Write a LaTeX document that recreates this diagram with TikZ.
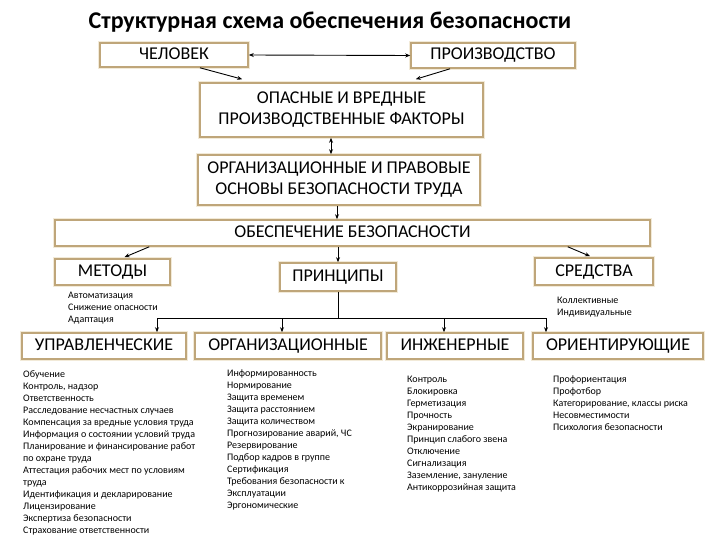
\documentclass[tikz,border=0pt]{standalone}
\usepackage{fontspec}
\setmainfont{Carlito}
\usetikzlibrary{arrows.meta,calc}
\definecolor{boxline}{RGB}{191,166,122}
\definecolor{boxglow}{RGB}{242,234,216}
\tikzset{
  box/.style={draw=boxline, line width=1.6pt, fill=white, inner sep=0pt,
    preaction={draw=boxglow, line width=4.5pt},
    font=\fontsize{18}{21}\selectfont, align=center},
  one/.style={text height=12pt, text depth=3pt},
  conn/.style={line width=0.9pt, black},
  arr/.style={conn, -{Stealth[length=5pt,width=4pt]}},
  darr/.style={conn, {Stealth[length=5pt,width=4pt]}-{Stealth[length=5pt,width=4pt]}},
  lst/.style={anchor=north west, inner sep=0pt, align=left, font=\fontsize{10}{12}\selectfont}
}
\begin{document}
\begin{tikzpicture}[x=1pt,y=-1pt]
\useasboundingbox (0,0) rectangle (720,540);
\node[font=\bfseries\fontsize{24}{28}\selectfont] (title) at (330,22) {Структурная схема обеспечения безопасности};

\node[box, one, minimum width=148pt, minimum height=24pt] (chel) at (174,55) {ЧЕЛОВЕК};
\node[box, one, minimum width=164pt, minimum height=25pt] (proiz) at (493,55.5) {ПРОИЗВОДСТВО};
\node[box, minimum width=283pt, minimum height=54pt] (opas) at (341.5,110) {ОПАСНЫЕ И ВРЕДНЫЕ\\ПРОИЗВОДСТВЕННЫЕ ФАКТОРЫ};
\node[box, minimum width=282pt, minimum height=50pt] (orgprav) at (339,180) {ОРГАНИЗАЦИОННЫЕ И ПРАВОВЫЕ\\ОСНОВЫ БЕЗОПАСНОСТИ ТРУДА};
\node[box, one, minimum width=595pt, minimum height=26pt] (obesp) at (352.5,233) {ОБЕСПЕЧЕНИЕ БЕЗОПАСНОСТИ};
\node[box, one, minimum width=115pt, minimum height=26pt] (metod) at (112.5,272) {МЕТОДЫ};
\node[box, one, minimum width=116pt, minimum height=28pt] (princ) at (338,277) {ПРИНЦИПЫ};
\node[box, one, minimum width=118pt, minimum height=27pt] (sredst) at (594,271.5) {СРЕДСТВА};

\node[box, one, minimum width=164pt, minimum height=26pt] (upr) at (104,346) {УПРАВЛЕНЧЕСКИЕ};
\node[box, one, minimum width=186pt, minimum height=26pt] (org) at (288,346) {ОРГАНИЗАЦИОННЫЕ};
\node[box, one, minimum width=136pt, minimum height=26pt] (inzh) at (455,346) {ИНЖЕНЕРНЫЕ};
\node[box, one, minimum width=170pt, minimum height=26pt] (orient) at (618,346) {ОРИЕНТИРУЮЩИЕ};

% connectors
\draw[darr] (chel.east) -- (proiz.west);
\draw[arr] ([xshift=26pt]chel.south) -- ([xshift=43pt,yshift=3pt]opas.north west);
\draw[arr] ([xshift=-43pt]proiz.south) -- ([xshift=-68pt,yshift=3pt]opas.north east);
\draw[darr] ([xshift=-10.5pt]opas.south) -- ([xshift=-10.5pt]opas.south |- orgprav.north);
\draw[arr] ([xshift=-2pt]orgprav.south) -- ([xshift=-2pt]orgprav.south |- obesp.north);
\draw[arr] ([xshift=95pt]obesp.south west) -- ([xshift=12pt,yshift=1pt]metod.north);
\draw[arr] (princ.north |- obesp.south) -- (princ.north);
\draw[arr] ([xshift=-83pt]obesp.south east) -- ([xshift=-4pt,yshift=1pt]sredst.north);

\coordinate (b1) at (157,318);
\coordinate (b2) at (282,318);
\coordinate (b3) at (444,318);
\coordinate (b4) at (546,318);
\draw[conn] (princ.south) -- (princ.south |- b1);
\draw[conn] (b1) -- (b4);
\draw[arr] (b1) -- (b1 |- upr.north);
\draw[arr] (b2) -- (b2 |- org.north);
\draw[arr] (b3) -- (b3 |- inzh.north);
\draw[arr] (b4) -- (b4 |- orient.north);

% lists
\node[lst] (lmet) at (68,292) {Автоматизация\\Снижение опасности\\Адаптация};
\node[lst] (lsr) at (557,297) {Коллективные\\Индивидуальные};
\node[lst] (lupr) at (23,370) {Обучение\\Контроль, надзор\\Ответственность\\Расследование несчастных случаев\\Компенсация за вредные условия труда\\Информация о состоянии условий труда\\Планирование и финансирование работ\\по охране труда\\Аттестация рабочих мест по условиям\\труда\\Идентификация и декларирование\\Лицензирование\\Экспертиза безопасности\\Страхование ответственности};
\node[lst] (lorg) at (227,370) {Информированность\\Нормирование\\Защита временем\\Защита расстоянием\\Защита количеством\\Прогнозирование аварий, ЧС\\Резервирование\\Подбор кадров в группе\\Сертификация\\Требования безопасности к\\Эксплуатации\\Эргономические};
\node[lst] (linzh) at (407,376) {Контроль\\Блокировка\\Герметизация\\Прочность\\Экранирование\\Принцип слабого звена\\Отключение\\Сигнализация\\Заземление, зануление\\Антикоррозийная защита};
\node[lst] (lor) at (553,376) {Профориентация\\Профотбор\\Категорирование, классы риска\\Несовместимости\\Психология безопасности};
\end{tikzpicture}
\end{document}
